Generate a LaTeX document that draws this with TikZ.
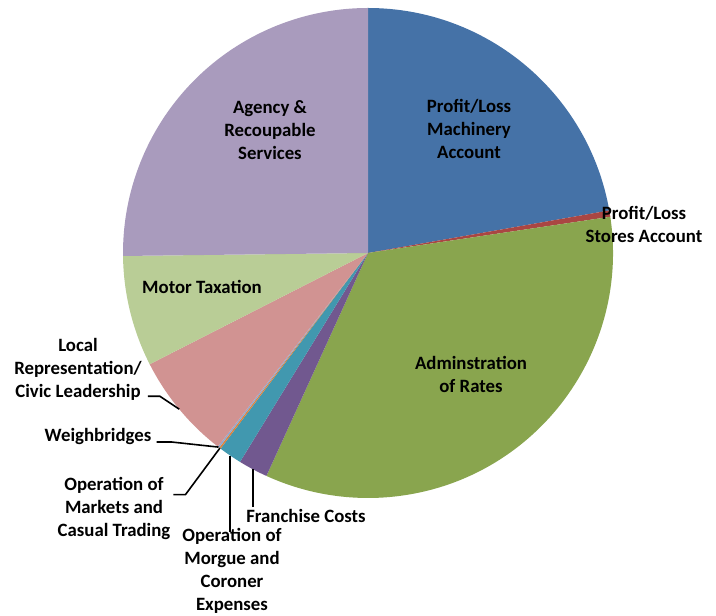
\documentclass[tikz,border=0pt]{standalone}
\usepackage{fontspec}
\setmainfont{Carlito}
\usetikzlibrary{calc}
\definecolor{pieBlue}{HTML}{4572A7}
\definecolor{pieRed}{HTML}{AA4643}
\definecolor{pieGreen}{HTML}{89A54E}
\definecolor{piePurple}{HTML}{71588F}
\definecolor{pieTeal}{HTML}{4198AF}
\definecolor{pieOrange}{HTML}{DB843D}
\definecolor{pieSky}{HTML}{93A9CF}
\definecolor{piePink}{HTML}{D19392}
\definecolor{pieLime}{HTML}{B9CD96}
\definecolor{pieLilac}{HTML}{A99BBD}
\newcommand{\pieR}{245}

\begin{document}
\begin{tikzpicture}[
        x=1pt, y=1pt,
        lbl/.style={align=center, font=\fontsize{18.8}{23}\selectfont\bfseries, inner sep=0pt},
        leader/.style={line width=1.6pt, black}
    ]
        \useasboundingbox (0,0) rectangle (716,616);
        \coordinate (c) at (368,363);
        
        % Slices, clockwise from the top
        \foreach \a/\b/\col in {90/10/pieBlue, 10/8.5/pieRed, 8.5/-114.5/pieGreen,
                -114.5/-121.5/piePurple, -121.5/-127/pieTeal, -127/-127.4/pieOrange,
                -127.4/-127.8/pieSky, -127.8/-153/piePink, -153/-179.3/pieLime, 180.7/90/pieLilac}
            \fill[\col] (c) -- ++(\a:\pieR) arc (\a:\b:\pieR) -- cycle;
        
        % Labels inside the pie
        \node[lbl] (machinery) at (469,487) {Profit/Loss\\Machinery\\Account};
        \node[lbl] (agency) at (270,486) {Agency \&\\Recoupable\\Services};
        \node[lbl] (rates) at (471,242) {Adminstration\\of Rates};
        \node[lbl] (motor) at (202,329) {Motor Taxation};
        \node[lbl] (stores) at (644,392) {Profit/Loss\\Stores Account};
        
        % Labels outside the pie
        \node[lbl] (local) at (78,247) {Local\\Representation/\\Civic Leadership};
        \node[lbl] (weigh) at (98,179) {Weighbridges};
        \node[lbl] (markets) at (114,108) {Operation of\\Markets and\\Casual Trading};
        \node[lbl] (morgue) at (232,45) {Operation of\\Morgue and\\Coroner\\Expenses};
        \node[lbl] (franchise) at (306,100) {Franchise Costs};
        
        % Rim points of the small slices
        \coordinate (rimLocal) at ($(c)+(-140.4:\pieR)$);
        \coordinate (rimWeigh) at ($(c)+(-127.6:\pieR)$);
        \coordinate (rimMarkets) at ($(c)+(-127.2:\pieR)$);
        \coordinate (rimMorgue) at ($(c)+(-124.25:\pieR)$);
        \coordinate (rimFranchise) at ($(c)+(-118:\pieR)$);
        
        % Leader lines
        \draw[leader] ($(local.south east)+(6,4)$) -- ++(12,0) -- (rimLocal);
        \draw[leader] ($(weigh.east)+(5,-5)$) -- ++(15,0) -- (rimWeigh);
        \draw[leader] ($(markets.north east)+(3,-18)$) -- ++(12,0) -- (rimMarkets);
        \draw[leader] (morgue.north -| rimMorgue) ++(0,-4) -- (rimMorgue);
        \draw[leader] (franchise.north -| rimFranchise) ++(0,2) -- (rimFranchise);
    \end{tikzpicture}
\end{document}
